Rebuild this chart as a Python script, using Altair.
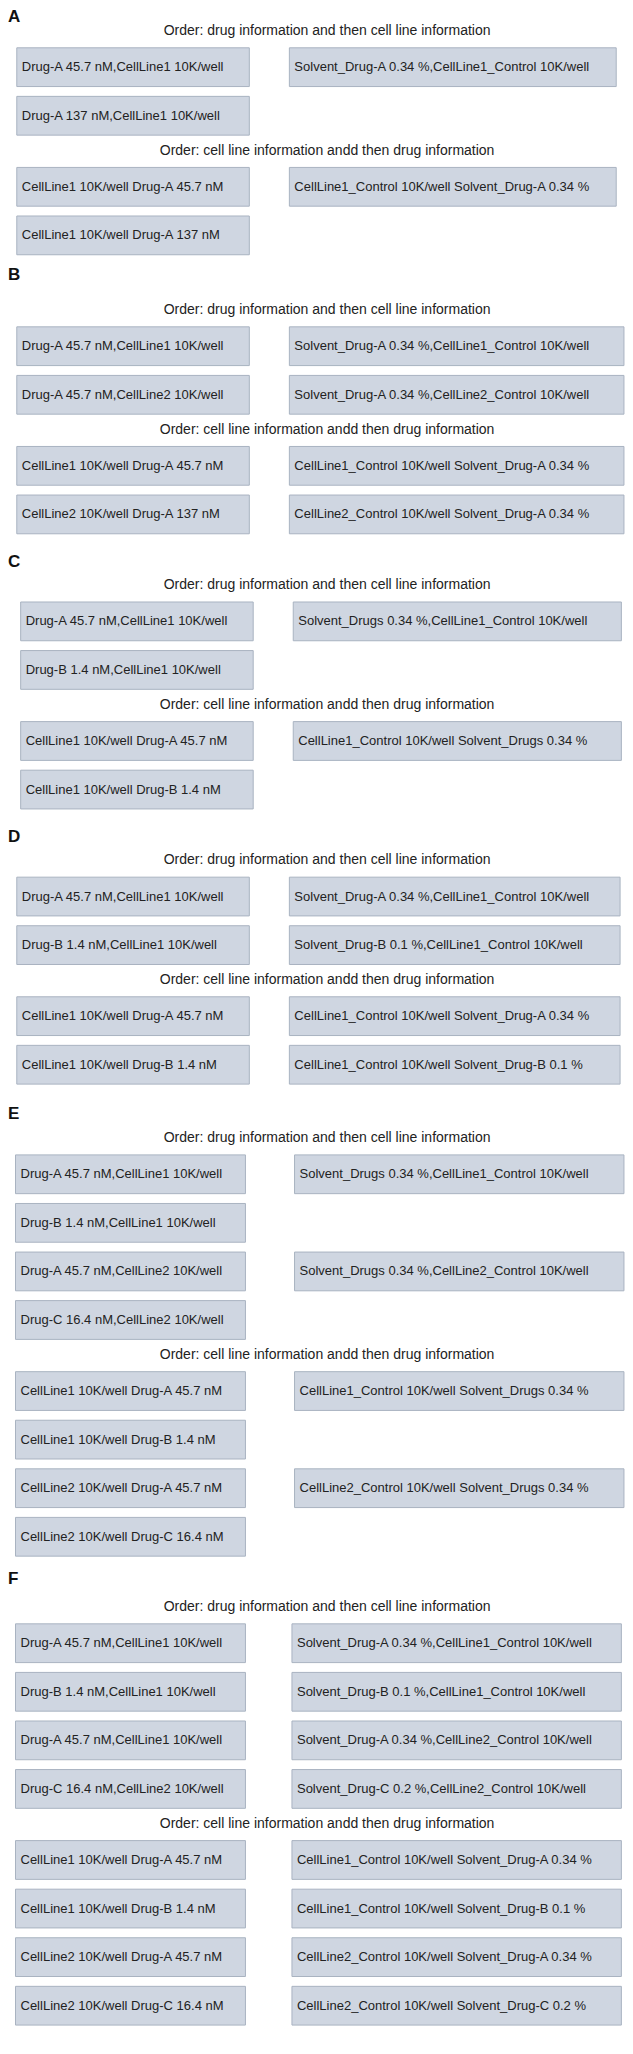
import altair as alt
import pandas as pd

# section letters and the y of the first "Order" header in each (display units)
sections = ["A", "B", "C", "D", "E", "F"]
header_top = ["Order: drug information and then cell line information"] * 6
header_bottom = ["Order: cell line information andd then drug information"] * 6

drug_first = [
    [("Drug-A 45.7 nM,CellLine1 10K/well", "Solvent_Drug-A 0.34 %,CellLine1_Control 10K/well"),
     ("Drug-A 137 nM,CellLine1 10K/well", None)],
    [("Drug-A 45.7 nM,CellLine1 10K/well", "Solvent_Drug-A 0.34 %,CellLine1_Control 10K/well"),
     ("Drug-A 45.7 nM,CellLine2 10K/well", "Solvent_Drug-A 0.34 %,CellLine2_Control 10K/well")],
    [("Drug-A 45.7 nM,CellLine1 10K/well", "Solvent_Drugs 0.34 %,CellLine1_Control 10K/well"),
     ("Drug-B 1.4 nM,CellLine1 10K/well", None)],
    [("Drug-A 45.7 nM,CellLine1 10K/well", "Solvent_Drug-A 0.34 %,CellLine1_Control 10K/well"),
     ("Drug-B 1.4 nM,CellLine1 10K/well", "Solvent_Drug-B 0.1 %,CellLine1_Control 10K/well")],
    [("Drug-A 45.7 nM,CellLine1 10K/well", "Solvent_Drugs 0.34 %,CellLine1_Control 10K/well"),
     ("Drug-B 1.4 nM,CellLine1 10K/well", None),
     ("Drug-A 45.7 nM,CellLine2 10K/well", "Solvent_Drugs 0.34 %,CellLine2_Control 10K/well"),
     ("Drug-C 16.4 nM,CellLine2 10K/well", None)],
    [("Drug-A 45.7 nM,CellLine1 10K/well", "Solvent_Drug-A 0.34 %,CellLine1_Control 10K/well"),
     ("Drug-B 1.4 nM,CellLine1 10K/well", "Solvent_Drug-B 0.1 %,CellLine1_Control 10K/well"),
     ("Drug-A 45.7 nM,CellLine1 10K/well", "Solvent_Drug-A 0.34 %,CellLine2_Control 10K/well"),
     ("Drug-C 16.4 nM,CellLine2 10K/well", "Solvent_Drug-C 0.2 %,CellLine2_Control 10K/well")],
]
cell_first = [
    [("CellLine1 10K/well Drug-A 45.7 nM", "CellLine1_Control 10K/well Solvent_Drug-A 0.34 %"),
     ("CellLine1 10K/well Drug-A 137 nM", None)],
    [("CellLine1 10K/well Drug-A 45.7 nM", "CellLine1_Control 10K/well Solvent_Drug-A 0.34 %"),
     ("CellLine2 10K/well Drug-A 137 nM", "CellLine2_Control 10K/well Solvent_Drug-A 0.34 %")],
    [("CellLine1 10K/well Drug-A 45.7 nM", "CellLine1_Control 10K/well Solvent_Drugs 0.34 %"),
     ("CellLine1 10K/well Drug-B 1.4 nM", None)],
    [("CellLine1 10K/well Drug-A 45.7 nM", "CellLine1_Control 10K/well Solvent_Drug-A 0.34 %"),
     ("CellLine1 10K/well Drug-B 1.4 nM", "CellLine1_Control 10K/well Solvent_Drug-B 0.1 %")],
    [("CellLine1 10K/well Drug-A 45.7 nM", "CellLine1_Control 10K/well Solvent_Drugs 0.34 %"),
     ("CellLine1 10K/well Drug-B 1.4 nM", None),
     ("CellLine2 10K/well Drug-A 45.7 nM", "CellLine2_Control 10K/well Solvent_Drugs 0.34 %"),
     ("CellLine2 10K/well Drug-C 16.4 nM", None)],
    [("CellLine1 10K/well Drug-A 45.7 nM", "CellLine1_Control 10K/well Solvent_Drug-A 0.34 %"),
     ("CellLine1 10K/well Drug-B 1.4 nM", "CellLine1_Control 10K/well Solvent_Drug-B 0.1 %"),
     ("CellLine2 10K/well Drug-A 45.7 nM", "CellLine2_Control 10K/well Solvent_Drug-A 0.34 %"),
     ("CellLine2 10K/well Drug-C 16.4 nM", "CellLine2_Control 10K/well Solvent_Drug-C 0.2 %")],
]

# layout (measured on a 490px-wide view, scaled up to the 633px page)
S = 633 / 490
first_header_y = [24, 240, 453, 666, 881, 1244]
letter_y = [9, 213, 435, 648, 862, 1222]
box_x = [(13, 193, 224, 477), (13, 193, 224, 483), (16, 196, 227, 481),
         (13, 193, 224, 480), (12, 190, 228, 483), (12, 190, 226, 481)]
ROW = 37.6
HDR_TO_ROW = 28
ROW_TO_HDR = 27
BOX_H = 30
W, H = 617, 2038

boxes, titles = [], []
for i, sec in enumerate(sections):
    y = first_header_y[i]
    titles.append({"x": 0, "y": letter_y[i], "t": sec, "kind": "letter"})
    lx0, lx1, rx0, rx1 = box_x[i]
    for block, hdr in ((drug_first[i], header_top[i]), (cell_first[i], header_bottom[i])):
        titles.append({"x": 247, "y": y, "t": hdr, "kind": "header"})
        y += HDR_TO_ROW
        for left, right in block:
            for txt, x0, x1 in ((left, lx0, lx1), (right, rx0, rx1)):
                if txt:
                    boxes.append({"x0": x0, "x1": x1, "y0": y - BOX_H / 2,
                                  "y1": y + BOX_H / 2, "yc": y, "t": txt})
            y += ROW
        y = y - ROW + ROW_TO_HDR

bx = pd.DataFrame(boxes)
for c in ["x0", "x1", "y0", "y1", "yc"]:
    bx[c] = bx[c] * S - 8
tt = pd.DataFrame(titles)
tt["x"] = tt["x"] * S
tt["y"] = tt["y"] * S - 8
tt.loc[tt.kind == "letter", "y"] = tt.loc[tt.kind == "letter", "y"].clip(lower=9)

xs = alt.Scale(domain=[0, W], nice=False, zero=False)
ys = alt.Scale(domain=[H, 0], nice=False, zero=False)
FONT = "Liberation Sans, Arial, sans-serif"

rects = alt.Chart(bx).mark_rect(fill="#cfd6e1", stroke="#a9b3c1", strokeWidth=1).encode(
    x=alt.X("x0:Q", scale=xs, axis=None), x2="x1:Q",
    y=alt.Y("y0:Q", scale=ys, axis=None), y2="y1:Q")
labels = alt.Chart(bx).mark_text(align="left", baseline="middle", dx=5,
                                 font=FONT, fontSize=13, color="#222").encode(
    x=alt.X("x0:Q", scale=xs, axis=None), y=alt.Y("yc:Q", scale=ys, axis=None), text="t:N")
headers = alt.Chart(tt[tt.kind == "header"]).mark_text(
    align="center", baseline="middle", font=FONT, fontSize=14, color="#222").encode(
    x=alt.X("x:Q", scale=xs, axis=None), y=alt.Y("y:Q", scale=ys, axis=None), text="t:N")
letters = alt.Chart(tt[tt.kind == "letter"]).mark_text(
    align="left", baseline="middle", font=FONT, fontSize=17, fontWeight="bold", color="#111").encode(
    x=alt.X("x:Q", scale=xs, axis=None), y=alt.Y("y:Q", scale=ys, axis=None), text="t:N")

chart = alt.layer(rects, labels, headers, letters).properties(
    width=W, height=H, padding=0, autosize=alt.AutoSizeParams(type="none")
).configure_view(stroke=None)

chart.save("out.html", embed_options={"renderer": "svg", "actions": False})
